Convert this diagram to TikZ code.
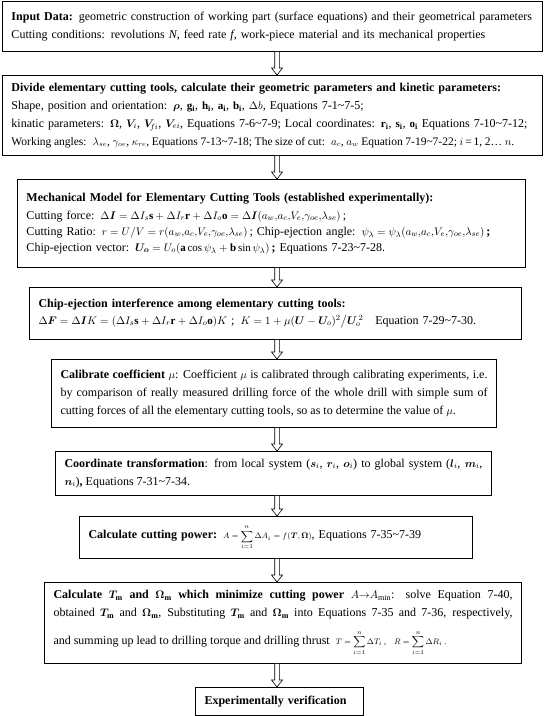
\documentclass[tikz,border=0pt]{standalone}
\usepackage{amsmath,amssymb,bm}
\usepackage{fontspec}
\setmainfont{Liberation Serif}
\usepackage{tikz}
\usetikzlibrary{calc,positioning}
\DeclareMathSizes{12}{11}{8}{6}
\DeclareMathSizes{11.5}{10.5}{7.5}{5.5}
\newcommand{\rng}{\textasciitilde}

\begin{document}
\begin{tikzpicture}[x=1pt, y=-1pt,
  stepbox/.style={draw, line width=0.8pt, anchor=north, inner xsep=9pt, inner ysep=3pt,
    align=left, font=\fontsize{12}{18}\selectfont},
  hollow/.style={draw, line width=0.6pt, fill=white,
    to path={let \p1=(\tikztostart), \p2=(\tikztotarget) in
      (\x1-2.3pt,\y1) -- (\x1-2.3pt,\y2+7pt) -- (\x1-5.5pt,\y2+7pt) -- (\x1,\y2)
      -- (\x1+5.5pt,\y2+7pt) -- (\x1+2.3pt,\y2+7pt) -- (\x1+2.3pt,\y1)}}]
  \useasboundingbox (0,0) rectangle (545,716);
  \coordinate (axis) at (277,0);
  % ---------- input and preparation ----------
  \node[stepbox, text width=522pt, minimum height=50pt] (input) at (272.5,1)
    {\textbf{Input Data:} geometric construction of working part (surface equations) and their geometrical parameters\\
     Cutting conditions: revolutions \textit{N}, feed rate \textit{f}, work-piece material and its mechanical properties};
  \node[stepbox, text width=522pt, minimum height=80pt] (divide) at (272.5,75)
    {\textbf{Divide elementary cutting tools, calculate their geometric parameters and kinetic parameters:}\\
     Shape, position and orientation: $\bm\rho$, $\mathbf{g_i}$, $\mathbf{h_i}$, $\mathbf{a_i}$, $\mathbf{b_i}$, $\Delta b$, Equations 7-1\rng7-5;\\
     kinatic parameters: $\bm\Omega$, $\bm V_i$, $\bm V_{\!fi}$, $\bm V_{ei}$, Equations 7-6\rng7-9; Local coordinates: $\mathbf{r_i}$, $\mathbf{s_i}$, $\mathbf{o_i}$ Equations 7-10\rng7-12;\\
     {\fontsize{11.5}{18}\selectfont\spaceskip=2.6pt plus 1pt minus 0.5pt
     Working angles: $\lambda_{se}$, $\gamma_{oe}$, $\kappa_{re}$, Equations 7-13\rng7-18; The size of cut: $a_c$, $a_w$ Equation 7-19\rng7-22; $i$\,=\,1, 2… $n$.}};
  % ---------- mechanical model ----------
  \node[stepbox, text width=490pt, minimum height=88pt, font=\fontsize{12}{16}\selectfont] (model) at (271.5,179)
    {\textbf{Mechanical Model for Elementary Cutting Tools (established experimentally):}\\[2pt]
     Cutting force:\enspace $\Delta\bm I = \Delta I_s\mathbf{s} + \Delta I_r\mathbf{r} + \Delta I_o\mathbf{o} = \Delta\bm I(a_w{,}a_c{,}V_e{,}\gamma_{oe}{,}\lambda_{se})$\,;\\
     Cutting Ratio:\enspace $r = U/V = r(a_w{,}a_c{,}V_e{,}\gamma_{oe}{,}\lambda_{se})$\,; Chip-ejection angle:\enspace $\psi_\lambda = \psi_\lambda(a_w{,}a_c{,}V_e{,}\gamma_{oe}{,}\lambda_{se})$\,\textbf{;}\\
     Chip-ejection vector:\enspace $\bm U_{\bm o} = U_o(\mathbf{a}\cos\psi_\lambda + \mathbf{b}\sin\psi_\lambda)$\,\textbf{;} Equations 7-23\rng7-28.\\[14pt]};
  \node[stepbox, text width=474pt, minimum height=52pt, font=\fontsize{12}{17}\selectfont] (interf) at (275.5,287)
    {\textbf{Chip-ejection interference among elementary cutting tools:}\\
     $\Delta\bm F = \Delta\bm I K = (\Delta I_s\mathbf{s} + \Delta I_r\mathbf{r} + \Delta I_o\mathbf{o})K$\ ;\enspace
     $K = 1 + \mu(\bm U - \bm U_o)^2\big/ \bm U_o^{\,2}$\quad Equation 7-29\rng7-30.};
  \node[stepbox, text width=427pt, minimum height=68pt, align=justify] (calib) at (274,359)
    {\textbf{Calibrate coefficient} $\mu$: Coefficient $\mu$ is calibrated through calibrating experiments, i.e.\linebreak
     by comparison of really measured drilling force of the whole drill with simple sum of\linebreak
     cutting forces of all the elementary cutting tools, so as to determine the value of $\mu$.};
  % ---------- transformation and optimisation ----------
  \node[stepbox, text width=418pt, minimum height=44pt, align=justify] (coord) at (273.5,451)
    {\textbf{Coordinate transformation}: from local system ($\bm s_i$, $\bm r_i$, $\bm o_i$) to global system ($\bm l_i$, $\bm m_i$,\linebreak
     $\bm n_i$)\textbf{,} Equations 7-31\rng7-34.};
  \node[stepbox, text width=375pt, minimum height=42pt] (power) at (276,516)
    {\textbf{Calculate cutting power:}\enspace {\footnotesize$\displaystyle A = \sum_{i=1}^{n}\Delta A_i = f(\bm T, \bm\Omega)$}, Equations 7-35\rng7-39};
  \node[stepbox, text width=459pt, minimum height=81pt, align=justify] (minim) at (283,582)
    {\textbf{Calculate $\bm T_{\mathbf m}$ and $\bm\Omega_{\mathbf m}$ which minimize cutting power} $A{\to}A_{\min}$: solve Equation 7-40,\linebreak
     obtained $\bm T_{\mathbf m}$ and $\bm\Omega_{\mathbf m}$, Substituting $\bm T_{\mathbf m}$ and $\bm\Omega_{\mathbf m}$ into Equations 7-35 and 7-36, respectively,\linebreak
     \rule{0pt}{24pt}and summing up lead to drilling torque and drilling thrust\enspace {\footnotesize$\displaystyle T = \sum_{i=1}^{n}\Delta T_i$\ ,\quad $\displaystyle R = \sum_{i=1}^{n}\Delta R_i$\ .}};
  \node[stepbox, text width=150pt, minimum height=28pt] (verify) at (279.5,687)
    {\textbf{Experimentally verification}};
  % ---------- hollow arrows ----------
  \draw[hollow] (input.south -| axis) to (divide.north -| axis);
  \draw[hollow] (divide.south -| axis) to (model.north -| axis);
  \draw[hollow] (model.south -| axis) to (interf.north -| axis);
  \draw[hollow] (interf.south -| axis) to (calib.north -| axis);
  \draw[hollow] (calib.south -| axis) to (coord.north -| axis);
  \draw[hollow] (coord.south -| axis) to (power.north -| axis);
  \draw[hollow] (power.south -| axis) to (minim.north -| axis);
  \draw[hollow] (minim.south -| axis) to (verify.north -| axis);
\end{tikzpicture}
\end{document}
